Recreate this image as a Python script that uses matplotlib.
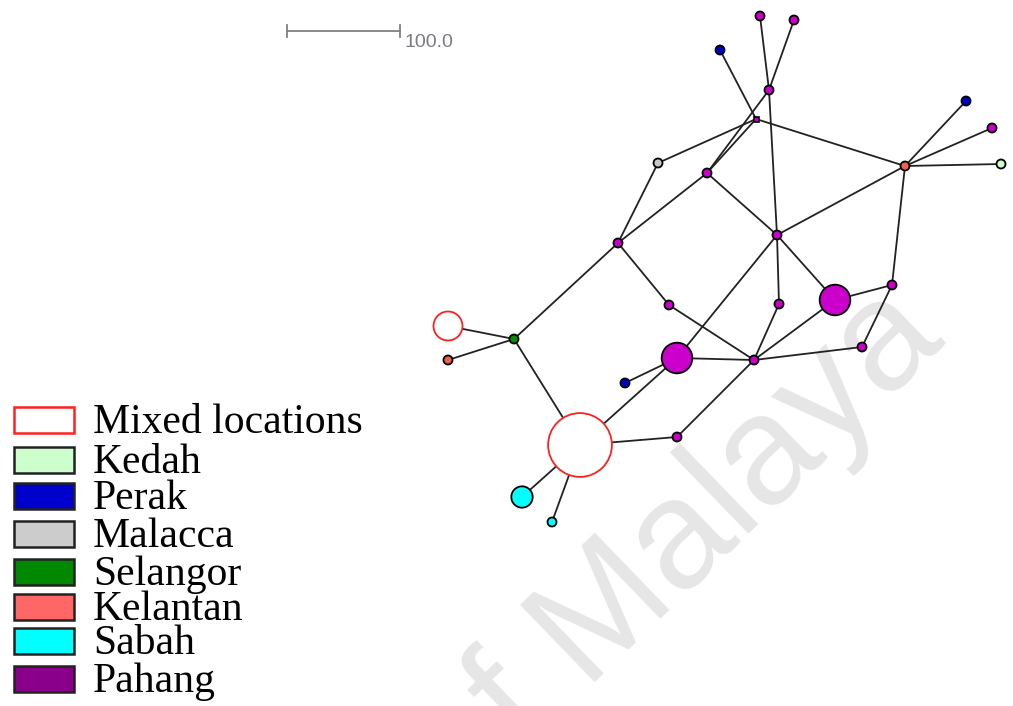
import numpy as np
import matplotlib.pyplot as plt
from matplotlib.patches import Circle, Rectangle

# sampling regions, in legend order
regions = ["Mixed locations", "Kedah", "Perak", "Malacca",
           "Selangor", "Kelantan", "Sabah", "Pahang"]
legend_fill = ["white", "#ccffcc", "#0000cc", "#cccccc",
               "#008800", "#ff6666", "#00ffff", "#8b008b"]
node_fill = {"Mixed locations": "white", "Kedah": "#ccffcc", "Perak": "#0000cc",
             "Malacca": "#c8c8c8", "Selangor": "#009000", "Kelantan": "#f06050",
             "Sabah": "#00ffff", "Pahang": "#cc00cc", "median": "#cc00cc"}

# haplotypes: layout position, number of individuals, region
hap_names = ["P1", "P2", "B1", "P3", "MV", "G1", "P4", "K1", "B2", "P5", "KD",
             "P6", "P7", "P8", "P9", "BP1", "P10", "P11", "BP2", "P12", "B3",
             "SL", "MX1", "K2", "MX2", "P13", "SB1", "SB2"]
hap_x = [760, 794, 720, 769, 756, 658, 707, 905, 966, 992, 1001,
         777, 618, 669, 779, 835, 892, 862, 677, 754, 625,
         514, 448, 448, 580, 677, 522, 552]
hap_y = [16, 20, 50, 90, 119, 163, 173, 166, 101, 128, 164,
         235, 243, 305, 304, 300, 285, 347, 358, 360, 383,
         339, 326, 360, 445, 437, 497, 522]
hap_n = [1, 1, 1, 1, 0, 1, 1, 1, 1, 1, 1,
         1, 1, 1, 1, 10, 1, 1, 10, 1, 1,
         1, 9, 1, 42, 1, 5, 1]
hap_region = ["Pahang", "Pahang", "Perak", "Pahang", "median", "Malacca", "Pahang",
              "Kelantan", "Perak", "Pahang", "Kedah",
              "Pahang", "Pahang", "Pahang", "Pahang", "Pahang", "Pahang", "Pahang",
              "Pahang", "Pahang", "Perak",
              "Selangor", "Mixed locations", "Kelantan", "Mixed locations", "Pahang",
              "Sabah", "Sabah"]

links = [("P1", "P3"), ("P2", "P3"), ("B1", "MV"), ("P3", "P4"), ("MV", "P4"),
         ("P3", "P6"), ("MV", "G1"), ("MV", "K1"), ("G1", "P7"), ("P4", "P7"),
         ("P4", "P6"), ("K1", "B2"), ("K1", "P5"), ("K1", "KD"), ("K1", "P6"),
         ("K1", "P10"), ("P6", "P9"), ("P6", "BP1"), ("P6", "BP2"), ("P7", "P8"),
         ("P7", "SL"), ("P8", "P12"), ("P9", "P12"), ("BP1", "P12"), ("BP1", "P10"),
         ("P10", "P11"), ("P11", "P12"), ("BP2", "P12"), ("BP2", "B3"), ("BP2", "MX2"),
         ("P12", "P13"), ("P13", "MX2"), ("SL", "MX1"), ("SL", "K2"), ("SL", "MX2"),
         ("MX2", "SB1"), ("MX2", "SB2")]

scale_length = 100.0

fig = plt.figure(figsize=(10.13, 7.06), dpi=100)
ax = fig.add_axes([0, 0, 1, 1])
ax.set_xlim(0, 1013)
ax.set_ylim(706, 0)
ax.axis("off")

# watermark
ax.text(947, 343, "University of Malaya", rotation=44, rotation_mode="anchor",
        ha="right", va="baseline", fontsize=112, color="#e6e6e6",
        family="Liberation Sans", zorder=0)

index = {name: i for i, name in enumerate(hap_names)}
for a, b in links:
    i, j = index[a], index[b]
    ax.plot([hap_x[i], hap_x[j]], [hap_y[i], hap_y[j]],
            color="#222222", lw=1.3, zorder=2)

for x, y, n, region in zip(hap_x, hap_y, hap_n, hap_region):
    if n == 0:
        ax.add_patch(Rectangle((x - 2.5, y - 2.5), 5, 5, facecolor=node_fill[region],
                               edgecolor="black", lw=1.2, zorder=3))
        continue
    r = 5 * np.sqrt(n)
    edge = "#ff2020" if region == "Mixed locations" else "black"
    ax.add_patch(Circle((x, y), r - 0.5, facecolor=node_fill[region],
                        edgecolor=edge, lw=1.3, zorder=3))

# scale bar
bar_x0, bar_y = 287, 31
bar_px = 113
ax.plot([bar_x0, bar_x0 + bar_px], [bar_y, bar_y], color="#808080", lw=1.3)
for bx in (bar_x0, bar_x0 + bar_px):
    ax.plot([bx, bx], [bar_y - 6, bar_y + 6], color="#808080", lw=1.3)
ax.text(bar_x0 + bar_px + 5, bar_y + 16, f"{scale_length:.1f}", fontsize=14,
        color="#7a7a88", family="Liberation Sans", va="baseline")

# legend
legend_tops = [407, 447, 483, 521, 559, 594, 628, 666]
for name, fill, top in zip(regions, legend_fill, legend_tops):
    edge = "#ff2020" if name == "Mixed locations" else "#222222"
    ax.add_patch(Rectangle((14, top), 60, 26, facecolor=fill, edgecolor=edge,
                           lw=1.8, zorder=3))
    ax.text(93, top + 26, name, fontsize=30, family="Liberation Serif",
            va="baseline", ha="left", color="black", zorder=3)

fig.savefig("out.png", dpi=100)
